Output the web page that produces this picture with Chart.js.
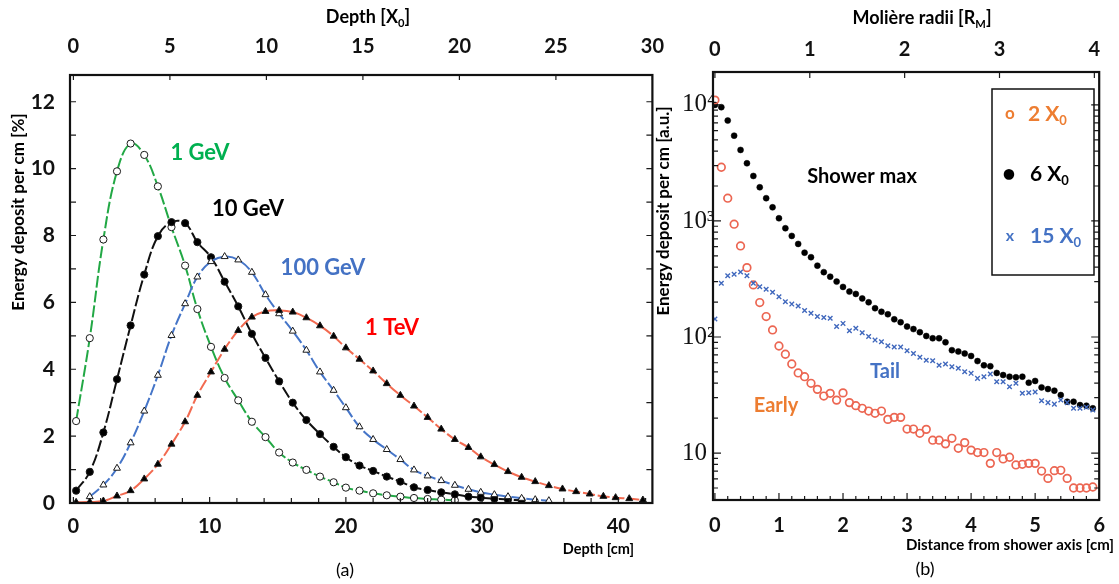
<!DOCTYPE html>
<html>
<head>
<meta charset="utf-8">
<script src="https://cdn.jsdelivr.net/npm/chart.js@4.4.1/dist/chart.umd.min.js"></script>
<style>
  body { margin: 0; background: #fff; }
  #wrap { position: relative; width: 1119px; height: 584px; }
  .panel { position: absolute; top: 0; height: 584px; }
  #left { left: 0; width: 680px; }
  #right { left: 640px; width: 479px; }
</style>
</head>
<body>
<div id="wrap">
  <div class="panel" id="left"><canvas id="depthChart"></canvas></div>
  <div class="panel" id="right"><canvas id="radialChart"></canvas></div>
</div>
<script>
// (a) longitudinal profiles: depth in cm, deposit in % per cm
const depthCm = [0.2, 1.2, 2.2, 3.2, 4.2, 5.2, 6.2, 7.2, 8.2, 9.1, 10.1, 11.1, 12.1, 13.1, 14.1,
  15.1, 16.1, 17.1, 18.1, 19.1, 20.0, 21.0, 22.0, 23.0, 24.0, 25.0, 26.0, 27.0, 28.0, 29.0,
  29.9, 30.9, 31.9, 32.9, 33.9, 34.9, 35.9, 36.9, 37.9, 38.9, 39.8, 40.8, 41.8];
const deposit1GeV = [2.45, 4.93, 7.88, 9.92, 10.75, 10.41, 9.47, 8.25, 7.10, 5.80, 4.67, 3.74,
  3.07, 2.43, 1.97, 1.51, 1.21, 0.99, 0.79, 0.62, 0.46, 0.37, 0.29, 0.23, 0.19, 0.15, 0.12, 0.10, 0.08];
const deposit10GeV = [0.37, 0.93, 2.11, 3.70, 5.31, 6.83, 7.98, 8.40, 8.37, 7.80, 7.35, 6.62, 5.88,
  5.06, 4.34, 3.64, 3.00, 2.48, 2.06, 1.68, 1.37, 1.12, 0.96, 0.79, 0.64, 0.47, 0.39, 0.32, 0.26,
  0.19, 0.16, 0.13, 0.10, 0.08];
const deposit100GeV = [null, 0.19, 0.54, 1.04, 1.80, 2.75, 3.82, 5.01, 5.96, 6.76, 7.22, 7.37, 7.27,
  6.90, 6.23, 5.66, 5.14, 4.57, 3.92, 3.37, 2.85, 2.28, 1.90, 1.60, 1.30, 0.99, 0.81, 0.67, 0.53,
  0.41, 0.32, 0.25, 0.19, 0.14, 0.10, 0.07];
const deposit1TeV = [0.02, 0.03, 0.06, 0.21, 0.37, 0.72, 1.16, 1.76, 2.43, 3.22, 3.92, 4.60, 5.16,
  5.56, 5.73, 5.76, 5.71, 5.54, 5.30, 4.99, 4.64, 4.30, 3.95, 3.57, 3.22, 2.90, 2.56, 2.21, 1.90,
  1.66, 1.38, 1.15, 0.94, 0.77, 0.64, 0.52, 0.42, 0.34, 0.27, 0.20, 0.16, 0.13, 0.09];

// (b) lateral profiles: distance from shower axis in cm, deposit in a.u.
const radiusCm = [0.0, 0.1, 0.2, 0.3, 0.4, 0.5, 0.6, 0.7, 0.8, 0.9, 1.0, 1.1, 1.2, 1.3, 1.4, 1.5,
  1.6, 1.7, 1.8, 1.9, 2.0, 2.1, 2.2, 2.3, 2.4, 2.5, 2.6, 2.7, 2.8, 2.9, 3.0, 3.1, 3.2, 3.3, 3.4,
  3.5, 3.6, 3.7, 3.8, 3.9, 4.0, 4.1, 4.2, 4.3, 4.4, 4.5, 4.6, 4.7, 4.8, 4.9, 5.0, 5.1, 5.2, 5.3,
  5.4, 5.5, 5.6, 5.7, 5.8, 5.9];
const early2X0 = [11000, 2900, 1570, 937, 609, 396, 281, 198, 150, 115, 83.6, 71, 58.5, 49, 45.5,
  39.9, 35.4, 31, 32.7, 28.6, 33, 27.2, 25.6, 24.3, 23, 22, 23, 19.5, 20.3, 20.3, 16.1, 16.1, 14.8,
  16, 12.9, 12.9, 12, 13.4, 11, 12.3, 10.6, 10.1, 10.1, 8.15, 10.1, 8.9, 9.2, 7.9, 8.0, 8.15, 8.15,
  7.0, 6.05, 7.05, 7.1, 6.05, 5.0, 5.0, 5.0, 5.1];
const max6X0 = [10000, 9550, 7330, 5430, 4090, 3140, 2440, 1950, 1570, 1310, 1055, 865, 743, 634,
  533, 487, 412, 362, 331, 300, 270, 246, 235, 215, 199, 177, 165, 157, 142, 134, 123, 117, 110,
  102, 97.5, 97.5, 90, 77, 75, 72, 68.6, 62, 57, 56, 49, 47, 45.5, 45, 45.5, 40.4, 41.8, 36.8,
  35.6, 34.5, 31.6, 27.7, 27.7, 25.9, 25.6, 24.3];
const tail15X0 = [143, 290, 337, 347, 363, 337, 290, 271, 258, 243, 222, 201, 192, 185, 169, 160,
  150, 147, 145, 123, 131, 113, 119, 109, 101, 94, 91, 84, 82, 82, 76, 72, 67, 63, 62.5, 57, 58.5,
  55.5, 53.7, 50.2, 48.6, 44, 45.5, 48, 41.2, 41.2, 37.3, 39.9, 32.7, 33.1, 33.6, 28.2, 27.2,
  26.4, 28.6, 27.2, 24.3, 24.3, 24.8, 23.5];

const X0_CM = 42.5 / 30;      // radiation length used for the top axis of (a)
const RM_CM = 6 / 4.051;      // Moliere radius used for the top axis of (b)

function toPoints(xs, ys) {
  return xs.map((x, i) => ({ x, y: ys[i] })).filter(p => p.y !== undefined && p.y !== null);
}

// text with optional subscripts; parts are strings or {t, sub:true}
function drawRich(ctx, parts, x, y, o) {
  const size = o.size, weight = o.weight || 'bold', family = o.family || 'Lato';
  const subSize = size * 0.62;
  const font = s => `${weight} ${s}px ${family}`;
  const items = parts.map(p => typeof p === 'string' ? { t: p } : p);
  let w = 0;
  for (const p of items) { ctx.font = font(p.sub ? subSize : size); w += ctx.measureText(p.t).width; }
  let cx = o.align === 'center' ? x - w / 2 : o.align === 'right' ? x - w : x;
  const base = y + size * 0.36;
  ctx.fillStyle = o.color || '#000';
  ctx.textBaseline = 'alphabetic';
  ctx.textAlign = 'left';
  for (const p of items) {
    ctx.font = font(p.sub ? subSize : size);
    ctx.fillText(p.t, cx, p.sub ? base + size * 0.2 : base);
    cx += ctx.measureText(p.t).width;
  }
}

// frame box and inward tick marks on chosen sides
function frameTicks(marks) {
  return {
    id: 'frameTicks',
    afterDatasetsDraw(chart) {
      const { ctx, chartArea: a } = chart;
      ctx.save();
      ctx.strokeStyle = '#1a1a1a';
      ctx.lineWidth = 1.2;
      for (const m of marks) {
        const s = chart.scales[m.scale];
        for (const t of s.ticks) {
          const v = t.value;
          let ok;
          if (m.log) {
            const mant = v / Math.pow(10, Math.floor(Math.log10(v) + 1e-9));
            ok = Math.abs(mant - Math.round(mant)) < 1e-6;
          } else {
            ok = Math.abs(v / m.step - Math.round(v / m.step)) < 1e-6;
          }
          if (!ok) continue;
          const len = t.label !== '' ? m.major : m.minor;
          const p = s.getPixelForValue(v);
          ctx.beginPath();
          for (const side of m.sides) {
            if (side === 'bottom') { ctx.moveTo(p, a.bottom); ctx.lineTo(p, a.bottom - len); }
            if (side === 'top') { ctx.moveTo(p, a.top); ctx.lineTo(p, a.top + len); }
            if (side === 'left') { ctx.moveTo(a.left, p); ctx.lineTo(a.left + len, p); }
            if (side === 'right') { ctx.moveTo(a.right, p); ctx.lineTo(a.right - len, p); }
          }
          ctx.stroke();
        }
      }
      ctx.lineWidth = 2.2;
      ctx.strokeStyle = '#111';
      ctx.strokeRect(a.left, a.top, a.width, a.height);
      ctx.restore();
    }
  };
}

function annotate(items) {
  return {
    id: 'annotate',
    afterDraw(chart) {
      const ctx = chart.ctx;
      for (const it of items) {
        ctx.save();
        if (it.box) {
          ctx.strokeStyle = '#111';
          ctx.lineWidth = 1.5;
          ctx.strokeRect(it.box[0], it.box[1], it.box[2], it.box[3]);
        } else {
          ctx.translate(it.x, it.y);
          if (it.rotate) ctx.rotate(it.rotate);
          drawRich(ctx, it.parts, 0, 0, it);
        }
        ctx.restore();
      }
    }
  };
}

const numFont = { family: 'Lato', size: 20, weight: 'bold' };
const hidden = { display: false, drawTicks: false };

// ---------- (a) ----------
const lineSet = (label, ys, color, style, fill, radius) => ({
  label,
  data: toPoints(depthCm, ys),
  borderColor: color,
  borderWidth: 2,
  borderDash: [12, 3],
  tension: 0.4,
  pointStyle: style,
  pointRadius: radius,
  pointBackgroundColor: fill,
  pointBorderColor: '#1a1a1a',
  pointBorderWidth: 1
});

new Chart(document.getElementById('depthChart'), {
  type: 'line',
  data: {
    datasets: [
      lineSet('1 TeV', deposit1TeV, '#f26a50', 'triangle', '#000', 4),
      lineSet('100 GeV', deposit100GeV, '#4575c8', 'triangle', '#fff', 4),
      lineSet('10 GeV', deposit10GeV, '#111', 'circle', '#000', 3.6),
      lineSet('1 GeV', deposit1GeV, '#22a845', 'circle', '#fff', 3.6)
    ]
  },
  options: {
    responsive: true,
    maintainAspectRatio: false,
    animation: false,
    events: [],
    layout: { padding: { left: 0, right: 25, top: 0, bottom: 0 } },
    plugins: { legend: { display: false }, tooltip: { enabled: false } },
    scales: {
      x: {
        type: 'linear', position: 'bottom', min: -0.25, max: 42.5,
        grid: hidden, border: { display: false },
        ticks: {
          stepSize: 2, includeBounds: false, autoSkip: false, maxRotation: 0,
          padding: 12, color: '#111', font: numFont,
          callback: v => Math.abs(v % 10) < 1e-6 ? String(Math.round(v)) : ''
        },
        afterFit: s => { s.height = 81; }
      },
      x2: {
        type: 'linear', position: 'top', min: -0.25 / X0_CM, max: 42.5 / X0_CM,
        grid: hidden, border: { display: false },
        ticks: {
          stepSize: 5, includeBounds: false, autoSkip: false, maxRotation: 0,
          padding: 16, color: '#111', font: numFont,
          callback: v => String(Math.round(v))
        },
        afterFit: s => { s.height = 75; }
      },
      y: {
        type: 'linear', position: 'left', min: 0, max: 12.8,
        grid: hidden, border: { display: false },
        ticks: {
          stepSize: 1, includeBounds: false, autoSkip: false,
          padding: 15, color: '#111', font: { family: 'Lato', size: 21, weight: 'bold' },
          callback: v => v % 2 === 0 ? String(v) : ''
        },
        afterFit: s => { s.width = 70; }
      }
    }
  },
  plugins: [
    frameTicks([
      { scale: 'y', step: 1, major: 6, minor: 6, sides: ['left', 'right'] },
      { scale: 'x', step: 2, major: 6, minor: 5, sides: ['bottom'] },
      { scale: 'x2', step: 5, major: 5, minor: 5, sides: ['top'] }
    ]),
    annotate([
      { x: 368, y: 17, parts: ['Depth [X', { t: '0', sub: true }, ']'], size: 18, align: 'center' },
      { x: 18, y: 212, rotate: -Math.PI / 2, parts: ['Energy deposit per cm [%]'], size: 17, align: 'center' },
      { x: 634, y: 549, parts: ['Depth [cm]'], size: 14.5, align: 'right' },
      { x: 345, y: 570, parts: ['(a)'], size: 18, weight: 'normal', align: 'center' },
      { x: 200, y: 152, parts: ['1 GeV'], size: 22, color: '#00b050', align: 'center' },
      { x: 248, y: 208, parts: ['10 GeV'], size: 22, color: '#000', align: 'center' },
      { x: 323, y: 267, parts: ['100 GeV'], size: 22, color: '#4472c4', align: 'center' },
      { x: 392, y: 327, parts: ['1 TeV'], size: 22, color: '#ff0000', align: 'center' }
    ])
  ]
});

// ---------- (b) ----------
const supDigits = ['\u2070', '\u00b9', '\u00b2', '\u00b3', '\u2074'];
const scatterSet = (label, ys, opts) => Object.assign({
  label,
  data: toPoints(radiusCm, ys),
  showLine: false
}, opts);

new Chart(document.getElementById('radialChart'), {
  type: 'scatter',
  data: {
    datasets: [
      scatterSet('15 X0', tail15X0, {
        pointStyle: 'crossRot', pointRadius: 3.2, borderColor: '#4068bd',
        pointBorderColor: '#4068bd', pointBorderWidth: 1.4
      }),
      scatterSet('2 X0', early2X0, {
        pointStyle: 'circle', pointRadius: 3.8, pointBackgroundColor: 'rgba(255,255,255,0)',
        pointBorderColor: '#ec6652', pointBorderWidth: 1.7
      }),
      scatterSet('6 X0', max6X0, {
        pointStyle: 'circle', pointRadius: 3, pointBackgroundColor: '#000',
        pointBorderColor: '#000', pointBorderWidth: 0.5
      })
    ]
  },
  options: {
    responsive: true,
    maintainAspectRatio: false,
    animation: false,
    events: [],
    layout: { padding: { left: 42, right: 12, top: 0, bottom: 0 } },
    plugins: { legend: { display: false }, tooltip: { enabled: false } },
    scales: {
      x: {
        type: 'linear', position: 'bottom', min: -0.03, max: 6,
        grid: hidden, border: { display: false },
        ticks: {
          stepSize: 0.2, includeBounds: false, autoSkip: false, maxRotation: 0,
          padding: 14, color: '#111', font: numFont,
          callback: v => Math.abs(v - Math.round(v)) < 1e-6 ? String(Math.round(v)) : ''
        },
        afterFit: s => { s.height = 84; }
      },
      x2: {
        type: 'linear', position: 'top', min: -0.03 / RM_CM, max: 6 / RM_CM,
        grid: hidden, border: { display: false },
        ticks: {
          stepSize: 1, includeBounds: false, autoSkip: false, maxRotation: 0,
          padding: 10, color: '#111', font: numFont,
          callback: v => String(Math.round(v))
        },
        afterFit: s => { s.height = 72; }
      },
      y: {
        type: 'logarithmic', position: 'left', min: 3.94, max: 19200,
        grid: hidden, border: { display: false },
        ticks: {
          autoSkip: false, crossAlign: 'far', padding: 0, color: '#111',
          font: { family: 'Liberation Serif', size: 25 },
          callback: v => {
            const e = Math.log10(v);
            if (Math.abs(e - Math.round(e)) > 1e-9) return '';
            const n = Math.round(e);
            return n === 1 ? '10' : '10' + supDigits[n];
          }
        },
        afterFit: s => { s.width = 31; }
      }
    }
  },
  plugins: [
    frameTicks([
      { scale: 'y', log: true, major: 8, minor: 5, sides: ['left', 'right'] },
      { scale: 'x', step: 0.2, major: 7, minor: 4, sides: ['bottom'] },
      { scale: 'x2', step: 1, major: 6, minor: 6, sides: ['top'] }
    ]),
    annotate([
      { x: 282, y: 18, parts: ['Moli\u00e8re radii [R', { t: 'M', sub: true }, ']'], size: 18, align: 'center' },
      { x: 23, y: 211, rotate: -Math.PI / 2, parts: ['Energy deposit per cm [a.u.]'], size: 17, align: 'center' },
      { x: 474, y: 545, parts: ['Distance from shower axis [cm]'], size: 15, align: 'right' },
      { x: 285, y: 569, parts: ['(b)'], size: 18, weight: 'normal', align: 'center' },
      { x: 222, y: 176, parts: ['Shower max'], size: 20, align: 'center' },
      { x: 245, y: 371, parts: ['Tail'], size: 20, color: '#4472c4', align: 'center' },
      { x: 136, y: 405, parts: ['Early'], size: 20, color: '#ed7d31', align: 'center' },
      { box: [352, 89, 102, 186] },
      { x: 370, y: 113, parts: ['o'], size: 17, color: '#ed7d31', align: 'center' },
      { x: 388, y: 113, parts: ['2 X', { t: '0', sub: true }], size: 21, color: '#ed7d31' },
      { x: 369, y: 173, parts: ['\u2022'], size: 24, color: '#000', align: 'center' },
      { x: 390, y: 173, parts: ['6 X', { t: '0', sub: true }], size: 21, color: '#000' },
      { x: 370, y: 235, parts: ['x'], size: 16, color: '#4472c4', align: 'center' },
      { x: 390, y: 235, parts: ['15 X', { t: '0', sub: true }], size: 21, color: '#4472c4' }
    ])
  ]
});
</script>
</body>
</html>
